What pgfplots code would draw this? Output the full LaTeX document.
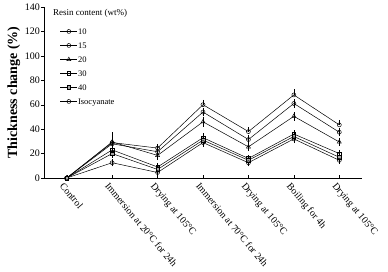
\documentclass[border=0pt]{standalone}
\usepackage{pgfplots}
\pgfplotsset{compat=1.18}
\usepackage{fontspec}
\setmainfont{Liberation Serif}
\begin{document}
\begin{tikzpicture}
\begin{axis}[
  name=ax,
  scale only axis, width=318pt, height=171pt,
  xmin=-0.5, xmax=6.5, ymin=0, ymax=140,
  axis lines*=left,
  ytick={0,20,...,140},
  xtick={0,...,6},
  xticklabels={Control,Immersion at 20°C for 24h,Drying at 105°C,Immersion at 70°C for 24h,Drying at 105°C,Boiling for 4h,Drying at 105°C},
  xticklabel style={rotate=-50, anchor=north west, font=\fontsize{9.8}{10}\selectfont, inner sep=0pt, xshift=1.5pt, yshift=-4pt},
  yticklabel style={font=\fontsize{10}{11}\selectfont, inner sep=1pt},
  /pgf/number format/assume math mode=true,
  y tick style={black}, x tick style={black},
  ytick align=outside, xtick align=inside,
  major tick length=3pt,
  ylabel={\textbf{Thickness change (\%)}},
  ylabel style={font=\fontsize{14}{15}\selectfont, yshift=0pt},
  legend style={at={(rel axis cs:0.05,0.88)}, anchor=north west, draw=none, fill=none,
    font=\fontsize{8.5}{9}\selectfont, row sep=6.5pt, inner sep=0pt,
    nodes={inner sep=0.5pt, text height=6pt, text depth=0.5pt}},
  legend cell align=left,
  legend image code/.code={\draw[#1] (0pt,0pt) -- (17pt,0pt); \draw[#1,only marks] plot coordinates {(8.5pt,0pt)};},
  every axis plot/.append style={black, solid, line width=0.5pt, mark size=2pt,
    error bars/error bar style={line width=0.45pt, black}, error bars/error mark options={black, mark size=1.8pt, line width=0.45pt}},
]
\addplot[mark=o, mark options={fill=white}, error bars/.cd, y dir=plus, y explicit] coordinates {
 (0,0) +- (0,0) (1,29) +- (0,2.5) (2,24.5) +- (0,1.5) (3,60) +- (0,2.5) (4,38) +- (0,2) (5,68) +- (0,3) (6,43.5) +- (0,2.5)};
\addlegendentry{10}
\addplot[mark=o, mark options={fill=white}, error bars/.cd, y dir=both, y explicit] coordinates {
 (0,0) +- (0,0) (1,28) +- (0,8) (2,21.5) +- (0,2) (3,54) +- (0,2) (4,31.5) +- (0,2) (5,61) +- (0,2) (6,37.5) +- (0,2)};
\addlegendentry{15}
\addplot[mark=triangle, mark size=2.3pt, mark options={fill=white}, error bars/.cd, y dir=both, y explicit] coordinates {
 (0,0) +- (0,0) (1,29.5) +- (0,2) (2,18.5) +- (0,2) (3,46) +- (0,2.5) (4,25.5) +- (0,2) (5,50.5) +- (0,2) (6,29.5) +- (0,2)};
\addlegendentry{20}
\addplot[mark=square, mark size=1.8pt, mark options={fill=white}, error bars/.cd, y dir=both, y explicit] coordinates {
 (0,0) +- (0,0) (1,23) +- (0,2) (2,9) +- (0,1.5) (3,33) +- (0,2) (4,16) +- (0,1.5) (5,36) +- (0,1.5) (6,20) +- (0,1.5)};
\addlegendentry{30}
\addplot[mark=square*, mark size=1.8pt, mark options={fill=gray!70}, error bars/.cd, y dir=both, y explicit] coordinates {
 (0,0) +- (0,0) (1,20) +- (0,2) (2,7) +- (0,1.5) (3,31) +- (0,2) (4,14.5) +- (0,1.5) (5,34) +- (0,1.5) (6,17) +- (0,1.5)};
\addlegendentry{40}
\addplot[mark=o, mark options={fill=white}, error bars/.cd, y dir=both, y explicit] coordinates {
 (0,0) +- (0,0) (1,12.5) +- (0,1.5) (2,4.5) +- (0,1) (3,29) +- (0,2) (4,12.5) +- (0,1.5) (5,32) +- (0,2) (6,14.5) +- (0,1.5)};
\addlegendentry{Isocyanate}
\node[anchor=west, font=\fontsize{9}{10}\selectfont, inner sep=0pt] at (rel axis cs:0.028,0.965) {Resin content (wt\%)};
\end{axis}
\pgfresetboundingbox
\path[use as bounding box] ([xshift=-44pt,yshift=-94pt]ax.south west) rectangle ([xshift=26pt,yshift=7pt]ax.north east);
\end{tikzpicture}
\end{document}
